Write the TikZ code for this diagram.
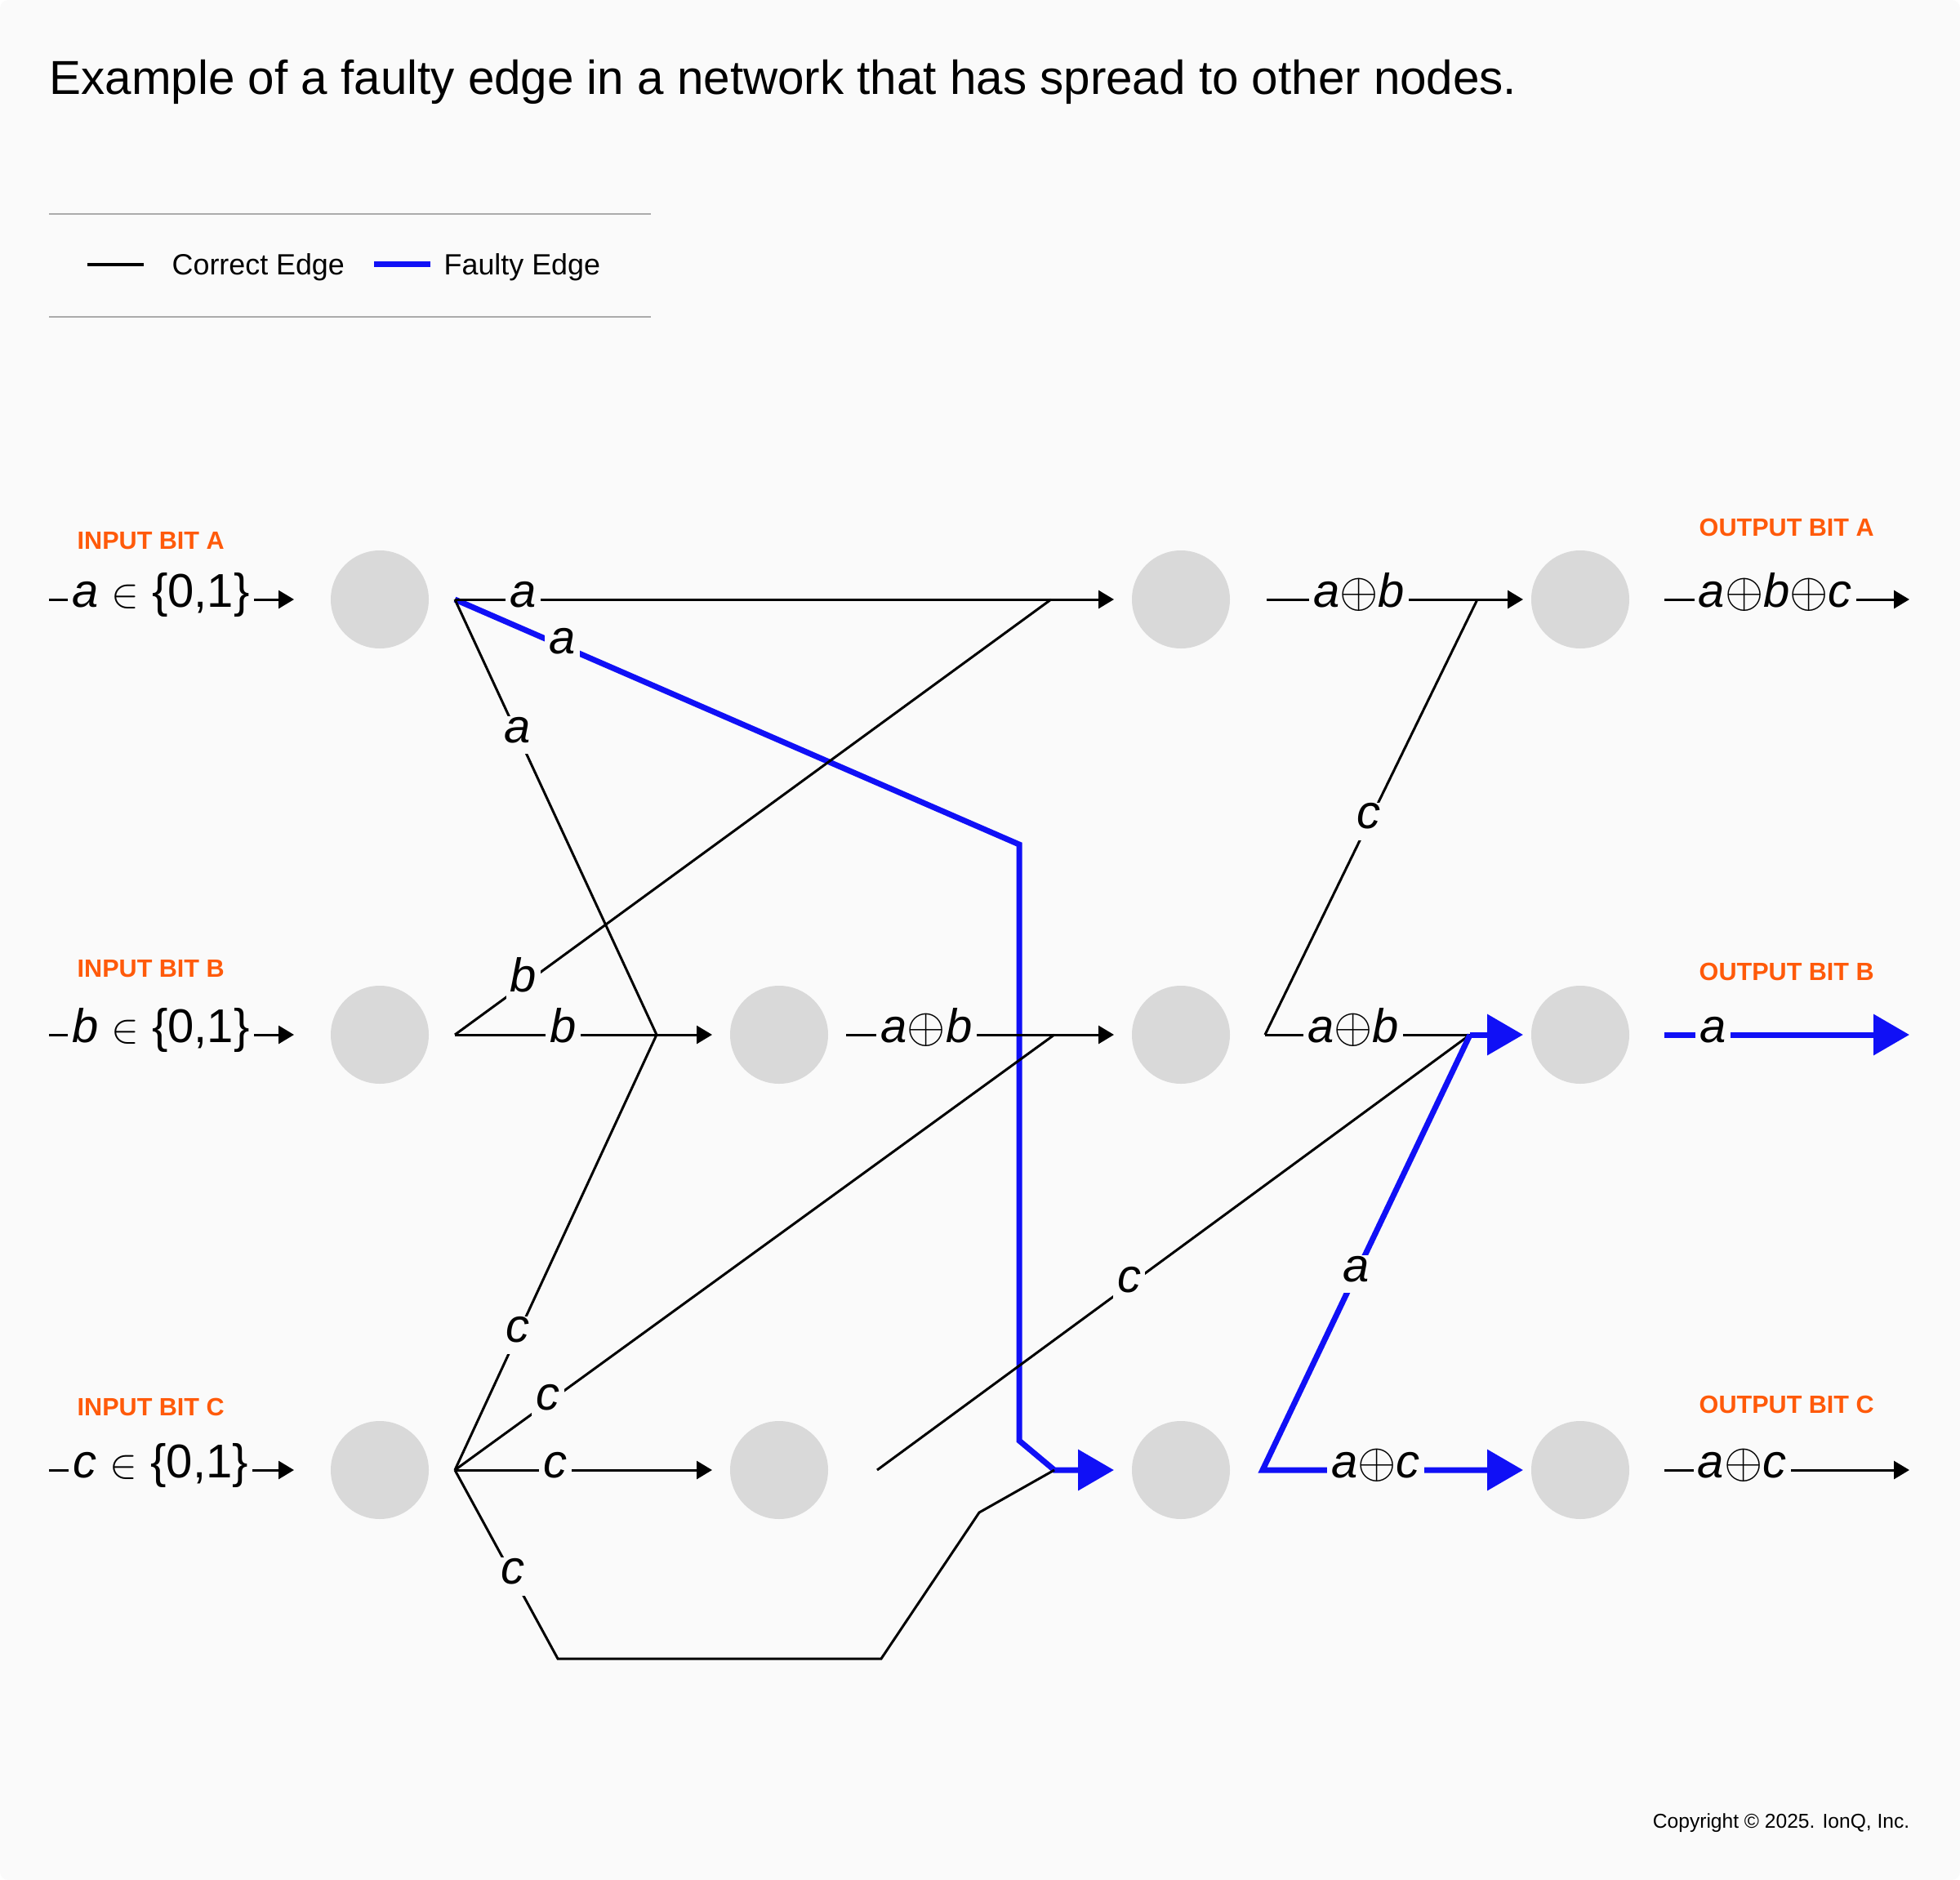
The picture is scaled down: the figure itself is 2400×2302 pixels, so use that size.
\documentclass[tikz,border=0pt]{standalone}
\usepackage{fontspec}
\setmainfont{Liberation Sans}
\usetikzlibrary{arrows.meta,positioning,calc}

\definecolor{paper}{HTML}{FAFAFA}
\definecolor{unitgray}{HTML}{D9D9D9}
\definecolor{bitorange}{HTML}{FF5A0A}
\definecolor{faultblue}{HTML}{1010F6}
\definecolor{rulegray}{HTML}{ABABAB}

\newcommand{\xorop}{$\oplus$}
\newcommand{\inset}{{\fontsize{14}{16}\selectfont$\in$}}

\begin{document}
\begin{tikzpicture}[
    x=0.1mm, y=-0.1mm,
    font=\fontsize{16.5}{19}\selectfont,
    unit/.style={circle, fill=unitgray, minimum size=12mm, inner sep=0pt, outer sep=0pt},
    lab/.style={fill=paper, text=black, inner xsep=1.5pt, inner ysep=2pt, text height=0.72em, text depth=0.2em},
    bit/.style={anchor=base west, inner sep=0pt, text=bitorange, font=\fontsize{8.7}{10}\selectfont\bfseries},
    legtext/.style={anchor=base west, inner sep=0pt, font=\fontsize{10.2}{12}\selectfont},
    ok/.style={line width=0.3mm, black},
    okar/.style={ok, -{Triangle[length=1.9mm, width=2.2mm]}},
    bad/.style={line width=0.7mm, faultblue},
    badar/.style={bad, -{Triangle[length=4.4mm, width=4.9mm]}},
  ]
    \fill[paper, rounded corners=1mm] (0,0) rectangle (2400,2302);
    \useasboundingbox (0,0) rectangle (2400,2302);

    % title and legend
    \node[anchor=base west, inner sep=0pt, font=\fontsize{16.6}{19}\selectfont] (title) at (60,116)
      {Example of a faulty edge in a network that has spread to other nodes.};
    \draw[rulegray, line width=0.2mm] (60,262) -- (797,262);
    \draw[rulegray, line width=0.2mm] (60,388) -- (797,388);
    \draw[ok, line width=0.35mm] (107,324) -- (176,324);
    \node[legtext] (lgok) at (210,337) {Correct Edge};
    \draw[bad] (458,324) -- (527,324);
    \node[legtext] (lgbad) at (543,337) {Faulty Edge};

    % units
    \node[unit] (nA1) at (465,734) {};
    \node[unit, below=41.3mm of nA1] (nB1) {};
    \node[unit, below=41.3mm of nB1] (nC1) {};
    \node[unit, right=36.9mm of nB1] (nB2) {};
    \node[unit, right=36.9mm of nC1] (nC2) {};
    \node[unit, right=86.1mm of nA1] (nA3) {};
    \node[unit, right=37.2mm of nB2] (nB3) {};
    \node[unit, right=37.2mm of nC2] (nC3) {};
    \node[unit, right=36.9mm of nA3] (nA4) {};
    \node[unit, right=36.9mm of nB3] (nB4) {};
    \node[unit, right=36.9mm of nC3] (nC4) {};

    \node[bit] (inA) at (94,672) {INPUT BIT A};
    \node[bit] (inB) at (94,1196) {INPUT BIT B};
    \node[bit] (inC) at (94,1733) {INPUT BIT C};
    \node[bit] (outA) at (2080,656) {OUTPUT BIT A};
    \node[bit] (outB) at (2080,1200) {OUTPUT BIT B};
    \node[bit] (outC) at (2080,1730) {OUTPUT BIT C};

    % end points and junctions
    \coordinate (sA) at (60,734);    \coordinate (tA1) at (360,734);
    \coordinate (sB) at (60,1267);   \coordinate (tB1) at (360,1267);
    \coordinate (sC) at (60,1800);   \coordinate (tC1) at (360,1800);
    \coordinate (oA1) at (557,734);  \coordinate (oB1) at (557,1267);  \coordinate (oC1) at (557,1800);
    \coordinate (oB2) at (1036,1267); \coordinate (oC2) at (1074,1800);
    \coordinate (tB2) at (872,1267);  \coordinate (tC2) at (872,1800);
    \coordinate (oA3) at (1551,734); \coordinate (oB3) at (1549,1267); \coordinate (oC3) at (1546,1800);
    \coordinate (tA3) at (1364,734); \coordinate (tB3) at (1364,1267); \coordinate (tC3) at (1364,1800);
    \coordinate (tA4) at (1865,734); \coordinate (tB4) at (1865,1267); \coordinate (tC4) at (1865,1800);
    \coordinate (oA4) at (2038,734); \coordinate (oB4) at (2038,1267); \coordinate (oC4) at (2038,1800);
    \coordinate (eA) at (2338,734);  \coordinate (eB) at (2338,1267);  \coordinate (eC) at (2338,1800);
    \coordinate (jA3) at (1287,734); \coordinate (jB2) at (804,1267);  \coordinate (jB3) at (1291,1267);
    \coordinate (jC3) at (1291,1800); \coordinate (jA4) at (1809,734); \coordinate (jB4) at (1800,1267);
    \coordinate (kA) at (1248,1034); \coordinate (kB) at (1248,1764);
    \coordinate (cR1) at (683,2031); \coordinate (cR2) at (1079,2031); \coordinate (cR3) at (1199,1852);

    % faulty path
    \draw[badar] (oA1) -- node[lab, pos=0.19] {\textit{a}} (kA) -- (kB) -- (jC3) -- (tC3);

    % inputs
    \draw[okar] (sA) -- node[lab, pos=0.456] {\textit{a} \inset\ \{0,1\}} (tA1);
    \draw[okar] (sB) -- node[lab, pos=0.456] {\textit{b} \inset\ \{0,1\}} (tB1);
    \draw[okar] (sC) -- node[lab, pos=0.456] {\textit{c} \inset\ \{0,1\}} (tC1);

    % first layer
    \draw[okar] (oA1) -- node[lab, pos=0.103] {\textit{a}} (tA3);
    \draw[ok] (oA1) -- node[lab, pos=0.312] {\textit{a}} (jB2);
    \draw[ok] (oB1) -- node[lab, pos=0.115] {\textit{b}} (jA3);
    \draw[okar] (oB1) -- node[lab, pos=0.42] {\textit{b}} (tB2);
    \draw[ok] (oC1) -- node[lab, pos=0.31] {\textit{c}} (jB2);
    \draw[ok] (oC1) -- node[lab, pos=0.155] {\textit{c}} (jB3);
    \draw[okar] (oC1) -- node[lab, pos=0.39] {\textit{c}} (tC2);
    \draw[ok] (oC1) -- node[lab, pos=0.565] {\textit{c}} (cR1) -- (cR2) -- (cR3) -- (jC3);

    % second layer
    \draw[okar] (oB2) -- node[lab, pos=0.30] {\textit{a}\xorop\textit{b}} (tB3);
    \draw[ok] (oC2) -- node[lab, pos=0.425] {\textit{c}} (jB4);

    % third layer
    \draw[okar] (oA3) -- node[lab, pos=0.36] {\textit{a}\xorop\textit{b}} (tA4);
    \draw[ok] (oB3) -- node[lab, pos=0.49] {\textit{c}} (jA4);
    \draw[ok] (oB3) -- node[lab, pos=0.43] {\textit{a}\xorop\textit{b}} (jB4);
    \draw[badar] (jB4) -- node[lab, pos=0.55] {\textit{a}} (oC3) -- node[lab, pos=0.434] {\textit{a}\xorop\textit{c}} (tC4);
    \draw[badar] (jB4) -- (tB4);

    % outputs
    \draw[okar] (oA4) -- node[lab, pos=0.453] {\textit{a}\xorop\textit{b}\xorop\textit{c}} (eA);
    \draw[badar] (oB4) -- node[lab, pos=0.197] {\textit{a}} (eB);
    \draw[okar] (oC4) -- node[lab, pos=0.317] {\textit{a}\xorop\textit{c}} (eC);

    \node[anchor=base east, inner sep=0pt, font=\fontsize{7}{8}\selectfont] (copy) at (2339,2238)
      {Copyright © 2025. IonQ, Inc.};
  \end{tikzpicture}
\end{document}
